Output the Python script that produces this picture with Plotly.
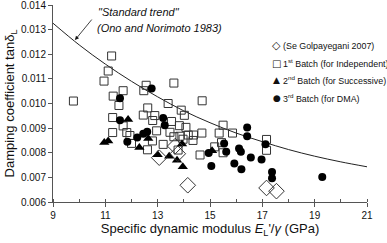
import plotly.graph_objects as go

# Standard trend (Ono and Norimoto 1983)
trend_x = [9, 10, 11, 12, 13, 14, 15, 16, 17, 18, 19, 20, 21]
trend_y = [0.01326, 0.01238, 0.01160, 0.01090, 0.01027, 0.00970, 0.00922,
           0.00880, 0.00845, 0.00813, 0.00786, 0.00763, 0.00743]

# (Se Golpayegani 2007)
dia_x = [13.06, 13.67, 13.77, 14.15, 17.16, 17.54]
dia_y = [0.00780, 0.00827, 0.00796, 0.00668, 0.00657, 0.00644]

# 1st Batch (for Independent)
sq_x = [9.78, 11.24, 11.11, 10.95, 11.68, 11.30, 11.52, 12.56, 12.47, 13.62,
        14.70, 12.62, 13.40, 13.90, 14.02, 12.45, 12.89, 11.28, 12.81, 13.53,
        13.83, 11.68, 14.08, 11.28, 11.82, 11.94, 12.96, 13.47, 13.62, 14.37,
        14.69, 12.00, 12.80, 12.61, 13.21, 13.97, 14.35, 14.62, 13.78, 15.35,
        15.50, 15.86, 15.18, 15.50, 17.16, 17.16, 15.44, 13.85, 14.17]
sq_y = [0.01010, 0.01193, 0.01132, 0.01091, 0.01052, 0.01030, 0.00992, 0.01074, 0.01052, 0.01083,
        0.01011, 0.00982, 0.01000, 0.00973, 0.00952, 0.00953, 0.00951, 0.00943, 0.00931, 0.00927,
        0.00910, 0.00909, 0.00903, 0.00882, 0.00882, 0.00870, 0.00889, 0.00883, 0.00865, 0.00872,
        0.00880, 0.00838, 0.00848, 0.00812, 0.00834, 0.00855, 0.00850, 0.00791, 0.00811, 0.00880,
        0.00912, 0.00880, 0.00824, 0.00800, 0.00854, 0.00810, 0.00841, 0.00867, 0.00872]

# 2nd Batch (for Successive)
tri_x = [10.96, 11.11, 11.87, 12.30, 12.64, 13.00, 13.44, 13.74, 13.93, 13.96, 15.08]
tri_y = [0.00842, 0.00848, 0.00935, 0.00821, 0.00858, 0.00792, 0.00786, 0.00770, 0.00836, 0.00743, 0.00808]

# 3rd Batch (for DMA)
cir_x = [11.56, 12.77, 11.56, 13.21, 13.27, 11.84, 12.22, 12.45, 12.60, 14.95,
         15.05, 15.54, 15.62, 15.93, 16.20, 16.11, 16.18, 16.42, 16.42, 16.56,
         16.97, 17.12, 17.37, 17.37, 19.29]
cir_y = [0.01021, 0.01061, 0.00932, 0.00941, 0.00912, 0.00845, 0.00862, 0.00877, 0.00885, 0.00799,
         0.00746, 0.00838, 0.00804, 0.00756, 0.00733, 0.00817, 0.00804, 0.00903, 0.00867, 0.00781,
         0.00773, 0.00835, 0.00722, 0.00696, 0.00702]

x_ticks = [9, 11, 13, 15, 17, 19, 21]
y_ticks = [0.006, 0.007, 0.008, 0.009, 0.010, 0.011, 0.012, 0.013, 0.014]
y_tick_labels = ["0.006", "0.007", "0.008", "0.009", "0.010", "0.011", "0.012", "0.013", "0.014"]

legend_labels = ["(Se Golpayegani 2007)",
                 "1<sup>st</sup> Batch (for Independent)",
                 "2<sup>nd</sup> Batch (for Successive)",
                 "3<sup>rd</sup> Batch (for DMA)"]
legend_glyphs = ["◇", "□", "▲", "●"]
legend_glyph_sizes = [11, 10, 9, 9]

fig = go.Figure()
fig.add_trace(go.Scatter(x=trend_x, y=trend_y, mode="lines", line=dict(color="#222", width=1, shape="spline"),
                         name="Standard trend", showlegend=False))
fig.add_trace(go.Scatter(x=sq_x, y=sq_y, mode="markers", name=legend_labels[1], showlegend=False,
                         marker=dict(symbol="square-open", size=8, color="#333", line=dict(width=1))))
fig.add_trace(go.Scatter(x=tri_x, y=tri_y, mode="markers", name=legend_labels[2], showlegend=False,
                         marker=dict(symbol="triangle-up", size=9, color="#000")))
fig.add_trace(go.Scatter(x=cir_x, y=cir_y, mode="markers", name=legend_labels[3], showlegend=False,
                         marker=dict(symbol="circle", size=8, color="#000")))
fig.add_trace(go.Scatter(x=dia_x, y=dia_y, mode="markers", name=legend_labels[0], showlegend=False,
                         marker=dict(symbol="diamond-open", size=12, color="#333", line=dict(width=1))))

font_family = "Liberation Sans, Arial, sans-serif"
leg_y = [0.792, 0.705, 0.617, 0.528]
for g, gs, lab, yy in zip(legend_glyphs, legend_glyph_sizes, legend_labels, leg_y):
    fig.add_annotation(x=0.713, y=yy, xref="paper", yref="paper", xanchor="center", yanchor="middle",
                       text=g, showarrow=False, font=dict(size=gs, color="#111", family="DejaVu Sans"))
    fig.add_annotation(x=0.727, y=yy, xref="paper", yref="paper", xanchor="left", yanchor="middle",
                       text=lab, showarrow=False, font=dict(size=8.9, color="#111", family=font_family))

fig.add_annotation(x=0.138, y=0.962, xref="paper", yref="paper", xanchor="left", yanchor="middle",
                   text="<i>\"Standard trend\"</i>", showarrow=False,
                   font=dict(size=11, color="#111", family=font_family))
fig.add_annotation(x=0.135, y=0.885, xref="paper", yref="paper", xanchor="left", yanchor="middle",
                   text="<i>(Ono and Norimoto 1983)</i>", showarrow=False,
                   font=dict(size=11, color="#111", family=font_family))
fig.add_annotation(x=0.070, y=0.822, xref="paper", yref="paper", ax=18, ay=-22,
                   text="", showarrow=True, arrowhead=2, arrowsize=1, arrowwidth=0.8, arrowcolor="#111")

fig.update_layout(
    width=387, height=243,
    margin=dict(l=53, r=20, t=5, b=41, autoexpand=False),
    paper_bgcolor="white", plot_bgcolor="white",
    font=dict(family=font_family, color="#111"),
    showlegend=False,
)
fig.update_xaxes(range=[9, 21], tickmode="array", tickvals=x_ticks, showgrid=False, zeroline=False,
                 automargin=False,
                 showline=True, linecolor="#555", linewidth=1, ticks="outside", ticklen=4, tickcolor="#555",
                 tickfont=dict(size=10),
                 minor=dict(dtick=1, tick0=9, ticks="inside", ticklen=3, tickcolor="#555", showgrid=False),
                 title=dict(text="Specific dynamic modulus <i>E</i><sub>L</sub>'/<i>γ</i> (GPa)",
                            font=dict(size=13), standoff=3))
fig.update_yaxes(range=[0.006, 0.014], tickmode="array", tickvals=y_ticks, ticktext=y_tick_labels,
                 automargin=False, ticklabeloverflow="allow",
                 showgrid=False, zeroline=False, showline=True, linecolor="#555", linewidth=1,
                 ticks="outside", ticklen=4, tickcolor="#555", tickfont=dict(size=10),
                 title=dict(text="Damping coefficient tanδ<sub>L</sub>", font=dict(size=13), standoff=3))

fig.write_html("out.html", config={"displayModeBar": False},
               post_script="document.body.style.margin='0px';document.body.style.overflow='hidden';")
